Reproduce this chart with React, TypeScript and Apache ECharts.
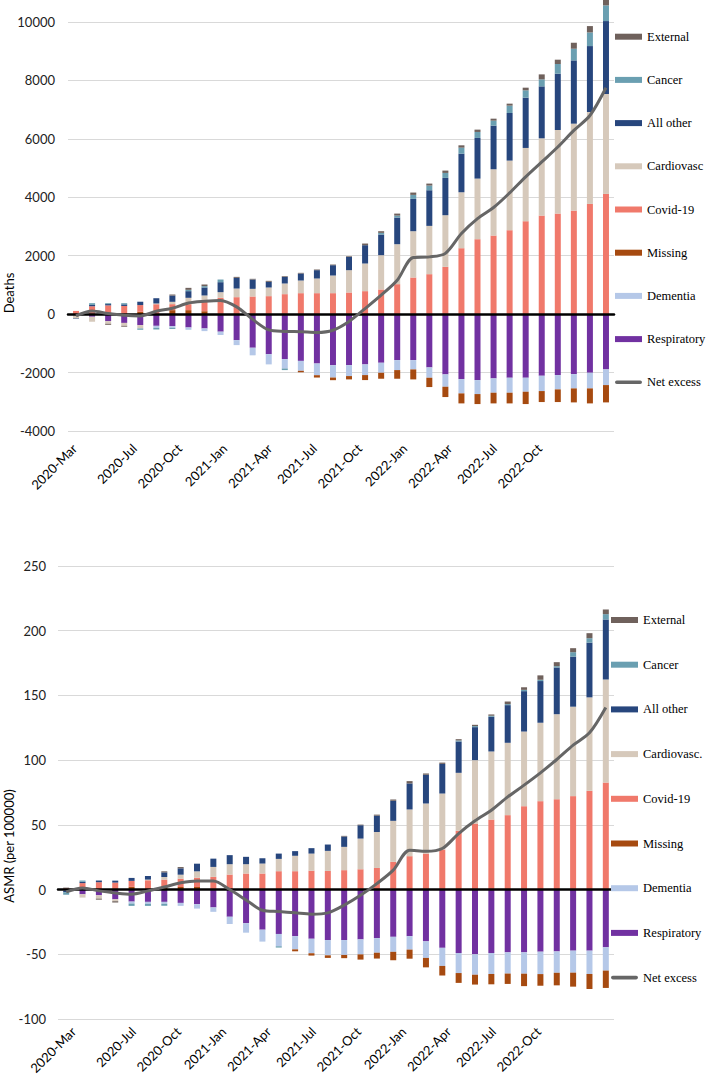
import React, { useEffect, useRef } from 'react';
import * as echarts from 'echarts';

const months = ['2020-Mar','2020-Apr','2020-May','2020-Jun','2020-Jul','2020-Aug','2020-Sep','2020-Oct','2020-Nov','2020-Dec','2021-Jan','2021-Feb','2021-Mar','2021-Apr','2021-May','2021-Jun','2021-Jul','2021-Aug','2021-Sep','2021-Oct','2021-Nov','2021-Dec','2022-Jan','2022-Feb','2022-Mar','2022-Apr','2022-May','2022-Jun','2022-Jul','2022-Aug','2022-Sep','2022-Oct','2022-Nov','2022-Dec'];
const xTickLabels = ['2020-Mar','2020-Jul','2020-Oct','2021-Jan','2021-Apr','2021-Jul','2021-Oct','2022-Jan','2022-Apr','2022-Jul','2022-Oct'];
const deathTicks = [-4000, -2000, 0, 2000, 4000, 6000, 8000, 10000];
const asmrTicks = [-100, -50, 0, 50, 100, 150, 200, 250];

// Deaths panel
const deathsRespiratory = [-20,-90,-240,-300,-375,-400,-410,-456,-490,-600,-890,-1150,-1370,-1540,-1600,-1690,-1750,-1744,-1721,-1664,-1573,-1573,-1824,-2063,-2223,-2257,-2200,-2177,-2177,-2109,-2086,-2052,-2006,-1892];
const deathsDementia = [0,0,0,0,0,-70,-57,-80,-91,-115,-170,-260,-350,-320,-340,-400,-420,-376,-365,-342,-342,-319,-353,-422,-490,-479,-490,-513,-479,-524,-490,-490,-536,-536];
const deathsMissing = [0,0,0,0,80,0,137,137,100,0,0,0,0,0,-50,-80,-90,-114,-171,-205,-296,-342,-319,-353,-342,-342,-365,-365,-422,-376,-433,-479,-513,-593];
const deathsCovid = [110,270,300,280,230,340,205,205,390,558,581,604,616,684,718,718,718,741,787,844,1026,1254,1368,1619,2257,2565,2690,2873,3181,3374,3443,3545,3773,4115];
const deathsCardio = [-130,-170,-90,-100,-115,25,80,217,149,194,296,262,296,365,433,502,604,764,946,1174,1368,1585,1653,1767,1915,2075,2269,2383,2508,2645,2861,2975,3146,3420];
const deathsAllOther = [-15,45,45,55,115,180,215,228,274,342,365,320,194,228,240,285,353,456,627,707,912,1106,1220,1277,1322,1391,1493,1630,1721,1778,1927,2166,2257,2497];
const deathsCancer = [0,60,30,40,-45,-55,-40,45,45,91,0,0,0,-55,0,0,0,0,0,57,68,137,160,171,205,205,171,251,251,239,331,399,467,536];
const deathsExternal = [0,0,-35,-30,0,0,35,68,57,0,34,23,34,23,23,23,23,23,57,57,68,80,68,80,80,80,68,68,91,171,148,205,217,194];
const deathsNet = [-55,110,20,-40,-60,100,200,380,440,470,250,-180,-540,-590,-600,-625,-550,-250,190,650,1160,1940,1960,2080,2760,3270,3650,4150,4700,5210,5720,6290,6800,7750];

// ASMR panel
const asmrRespiratory = [0,-3.6,-4.4,-7.5,-9.3,-9.5,-9.5,-10.3,-11.3,-13.8,-21,-26,-31,-34.3,-36,-38,-39,-39,-38.5,-37.5,-36.5,-36,-40,-45,-49,-50,-49,-48.5,-48.5,-48,-47.8,-47.2,-47.2,-44.6];
const asmrDementia = [-1,0,0,0,-1.5,-1.5,-1.5,-2.3,-3.4,-3.4,-5.6,-7.3,-9.2,-9.5,-10.2,-11.2,-11.8,-11.5,-11.6,-11.3,-11.6,-10.4,-12.8,-14,-15.5,-15.8,-16.2,-16.4,-16.5,-17.3,-16.5,-17,-18,-18];
const asmrMissing = [0,0,0,0,2.1,0,2,2,2,0,0,0,0,0,-1.5,-1.8,-2,-2.5,-4,-4.5,-6.5,-7,-7.3,-7.4,-7.6,-7.6,-8,-8,-9.6,-9,-9.7,-10.8,-11.6,-13.4];
const asmrCovid = [1,5,5.7,5.4,4.6,7.2,5.7,6.4,7.2,9.8,11.6,12.4,12.4,14.2,14.2,14.6,14.4,15,15.7,16.7,21.4,25.8,27.8,30.9,45.4,51,54.1,57.5,64.4,68.3,69.8,72.2,76.3,82.7];
const asmrCardio = [0,-2.6,-2.6,-1.5,0,0.5,2,3.1,4.9,7.7,8,7.2,7.7,9.5,11.9,13.2,15.5,18,23.7,27.8,31.7,36.1,38.7,43.3,44.8,49,52.6,55.9,57.7,60.6,65.7,69.1,72.2,79.6];
const asmrAllOther = [-1,1,1.3,1.5,2.3,2.8,3.6,4.9,5.9,6.4,7,5.7,4.1,4.1,3.6,4.2,4.9,8,10.3,12.6,15.5,20.1,22.2,22.9,24.2,25.5,26.8,29.1,31.2,32.2,36.1,38.7,42.3,46.4];
const asmrCancer = [-2,1,0,0,-1.8,-1.6,-1.5,0,0,0,0,0,0,-1,0,0,0,0,0,0,0,0,0,0,0.8,0.8,0.8,0.8,1,1,1,3.4,3.4,4.1];
const asmrExternal = [0.5,0,-0.8,-1,0,0,0.8,1,0,0,0,0,0,0,0,0,0,0.5,0.5,0.8,1,1.8,1,1,1,1,1,2,2,3.4,3.1,3.1,3.9,3.6];
const asmrNet = [-1.8,1.3,-1,-2.6,-3.6,-1,2,5.2,6.7,6.7,0,-8,-16,-17,-18,-19,-18,-12,-4.4,4.6,15,30.4,29.6,31.7,43.3,53.1,61.3,71.6,80.7,90.2,100.5,111.6,121.1,140.7];

const C = {
  external: '#6f615c',
  cancer: '#6a9fb1',
  allOther: '#27467d',
  cardio: '#d6c9bb',
  covid: '#f0796b',
  missing: '#a64a10',
  dementia: '#b5c8e8',
  respiratory: '#7131a1',
  net: '#666666',
};

const SANS = 'Lato, "Open Sans", sans-serif';
const SERIF = '"Liberation Serif", "Times New Roman", serif';
const LINE_ICON = 'path://M2,0 L28,0 A2,2 0 0 1 28,4 L2,4 A2,2 0 0 1 2,0 Z';

function bar(name: string, data: number[], color: string, idx: number) {
  return {
    type: 'bar', name, data, xAxisIndex: idx, yAxisIndex: idx,
    stack: 'panel' + idx, stackStrategy: 'samesign', barWidth: 6,
    itemStyle: { color }, clip: false, emphasis: { disabled: true },
  };
}

function line(data: number[], idx: number) {
  return {
    type: 'line', name: 'Net excess', data, xAxisIndex: idx, yAxisIndex: idx,
    smooth: 0.3, symbol: 'none', showSymbol: false, z: 5,
    lineStyle: { color: C.net, width: 3 }, itemStyle: { color: C.net },
  };
}

function legend(top: number, left: number, gap: number, cardioName: string) {
  const names = ['External', 'Cancer', 'All other', cardioName, 'Covid-19', 'Missing', 'Dementia', 'Respiratory'];
  return {
    orient: 'vertical', top, left, padding: 0, itemGap: gap, itemWidth: 27, itemHeight: 6,
    selectedMode: false,
    textStyle: { fontFamily: SERIF, fontSize: 12.5, color: '#000', lineHeight: 14 },
    data: [
      ...names.map((n) => ({ name: n, icon: 'rect' })),
      { name: 'Net excess', icon: LINE_ICON, itemStyle: { color: C.net } },
    ],
  };
}

export default function App() {
  const ref = useRef<HTMLDivElement>(null);
  useEffect(() => {
    const chart = echarts.init(ref.current!, null, { renderer: 'svg' });
    const valueAxis = (grid: number, ticks: number[], margin: number) => ({
      gridIndex: grid, type: 'value', min: ticks[0], max: ticks[ticks.length - 1],
      interval: ticks[1] - ticks[0],
      axisLine: { show: false }, axisTick: { show: false },
      axisLabel: { fontFamily: SANS, fontSize: 13, color: '#222', margin, formatter: (v: number) => String(v) },
      splitLine: { lineStyle: { color: '#d9d9d9', width: 1 } },
    });
    const mainX = (grid: number) => ({
      gridIndex: grid, type: 'category', data: months, z: 3,
      axisLine: { onZero: true, lineStyle: { color: '#000', width: 2.5 } },
      axisTick: { show: false }, axisLabel: { show: false }, splitLine: { show: false },
    });
    const labelX = (grid: number) => ({
      gridIndex: grid, type: 'category', data: months,
      axisLine: { show: false, onZero: false }, axisTick: { show: false }, splitLine: { show: false },
      axisLabel: {
        interval: (_i: number, v: string) => xTickLabels.includes(v),
        rotate: 45, margin: 15, fontFamily: SANS, fontSize: 13, color: '#000',
      },
    });
    const hiddenY = (grid: number) => ({ gridIndex: grid, type: 'value', show: false, min: 0, max: 1 });

    const option = {
      animation: false,
      backgroundColor: '#fff',
      grid: [
        { left: 68, top: 22, width: 546, height: 409 },
        { left: 58, top: 566, width: 556, height: 453 },
        { left: 67, top: 22, width: 510, height: 409 },
        { left: 66, top: 566, width: 510, height: 453 },
      ],
      xAxis: [mainX(0), mainX(1), labelX(2), labelX(3)],
      yAxis: [valueAxis(0, deathTicks, 13), valueAxis(1, asmrTicks, 12), hiddenY(2), hiddenY(3)],
      legend: [legend(29.7, 615, 29.2, 'Cardiovasc'), legend(613, 611, 30.7, 'Cardiovasc.')],
      graphic: [
        { type: 'text', x: 9, y: 293, rotation: Math.PI / 2,
          style: { text: 'Deaths', font: '13px ' + SANS, fill: '#000', textAlign: 'center', textVerticalAlign: 'middle' } },
        { type: 'text', x: 9, y: 846, rotation: Math.PI / 2,
          style: { text: 'ASMR (per 100000)', font: '13px ' + SANS, fill: '#000', textAlign: 'center', textVerticalAlign: 'middle' } },
      ],
      series: [
        bar('Respiratory', deathsRespiratory, C.respiratory, 0),
        bar('Dementia', deathsDementia, C.dementia, 0),
        bar('Missing', deathsMissing, C.missing, 0),
        bar('Covid-19', deathsCovid, C.covid, 0),
        bar('Cardiovasc', deathsCardio, C.cardio, 0),
        bar('All other', deathsAllOther, C.allOther, 0),
        bar('Cancer', deathsCancer, C.cancer, 0),
        bar('External', deathsExternal, C.external, 0),
        line(deathsNet, 0),
        bar('Respiratory', asmrRespiratory, C.respiratory, 1),
        bar('Dementia', asmrDementia, C.dementia, 1),
        bar('Missing', asmrMissing, C.missing, 1),
        bar('Covid-19', asmrCovid, C.covid, 1),
        bar('Cardiovasc.', asmrCardio, C.cardio, 1),
        bar('All other', asmrAllOther, C.allOther, 1),
        bar('Cancer', asmrCancer, C.cancer, 1),
        bar('External', asmrExternal, C.external, 1),
        line(asmrNet, 1),
      ],
    };
    chart.setOption(option as any);
    return () => chart.dispose();
  }, []);
  return (
    <div
      ref={ref}
      style={{ position: 'absolute', left: 0, top: 0, width: 708, height: 1077, background: '#fff' }}
    />
  );
}
